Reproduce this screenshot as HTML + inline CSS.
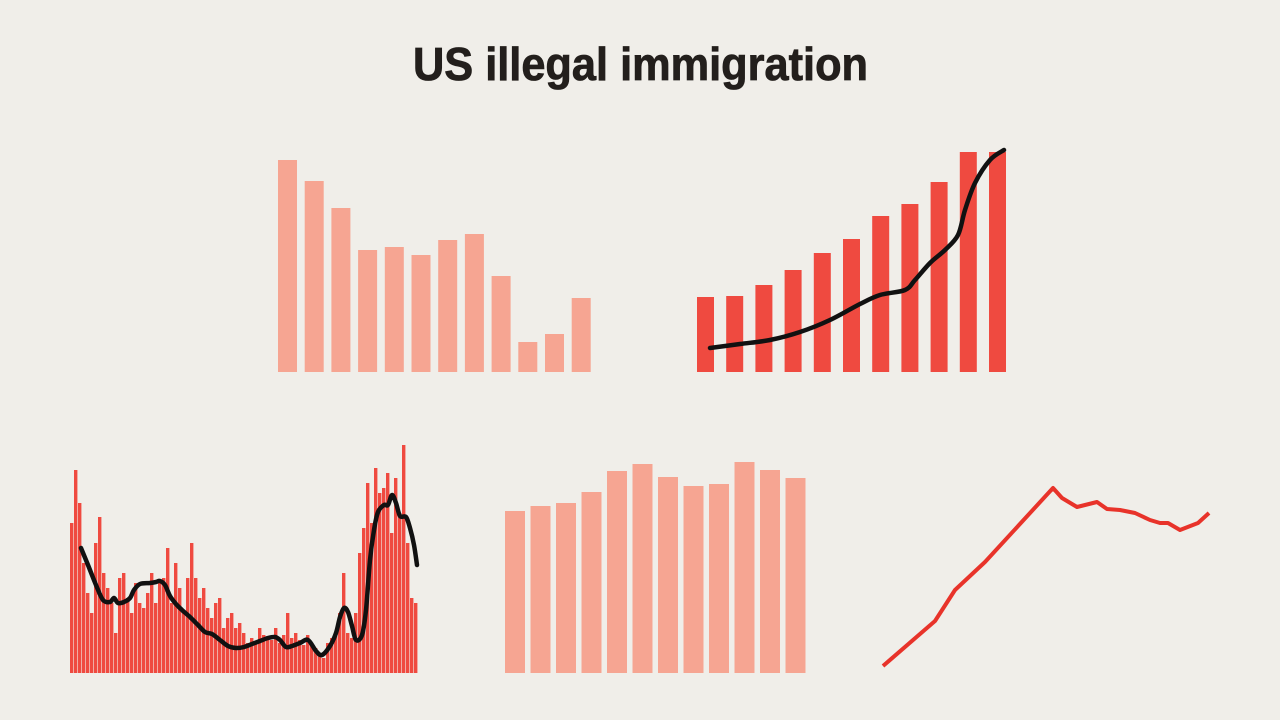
<!DOCTYPE html>
<html><head><meta charset="utf-8"><style>
html,body{margin:0;padding:0;background:#f0eee9;}
svg{display:block;}
</style></head><body>
<svg id="c" width="1280" height="720" viewBox="0 0 1280 720" xmlns="http://www.w3.org/2000/svg">
<rect width="1280" height="720" fill="#f0eee9"/>
<text x="413" y="80" textLength="455" lengthAdjust="spacingAndGlyphs" font-family="Liberation Sans, sans-serif" font-weight="bold" font-size="46" fill="#231f1c" stroke="#231f1c" stroke-width="0.8">US illegal immigration</text>
<g id="g1"></g>
<g id="g2"></g>
<g id="g3"></g>
<g id="g4"></g>
<g id="g5"></g>
</svg>
<script>
const NS="http://www.w3.org/2000/svg";
// Chart 1: top-left bars
const c1Values=[212,191,164,122,125,117,132,138,96,30,38,74];
// Chart 2: top-right bars + trend line
const c2Values=[75,76,87,102,119,133,156,168,190,220,220];
const c2LineX=[710,740,770,800,830,860,880,905,915,930,945,958,965,975,990,1004];
const c2Line=[24,28,32,40,52,68,77,82,92,109,122,137,162,189,212,222];
// Chart 3: bottom-left daily bars + smoothed line
const c3Values=[150,203,170,110,80,60,130,156,100,85,70,40,95,100,75,60,90,70,65,80,100,70,90,95,125,70,110,85,60,95,130,95,75,85,65,55,70,75,45,55,60,45,50,40,30,35,30,45,38,35,33,45,30,38,60,35,40,33,28,38,30,25,20,15,30,35,40,60,100,40,35,60,120,145,190,150,205,180,185,200,140,195,160,228,130,75,70];
const c3LineX=[81,88,96,103,110,114,118,124,130,134,140,150,156,160,165,170,176,182,190,198,205,212,220,228,236,244,252,260,268,275,280,286,292,300,308,316,322,330,336,340,344,348,352,356,362,366,370,374,378,384,388,392,396,400,406,410,414,417];
const c3LineY=[125,108,88,73,71,75,70,71,75,83,89,90,91,92,88,77,69,63,56,48,41,39,33,27,25,26,29,32,35,36,33,26,27,30,33,22,18,27,40,56,65,61,47,33,38,63,113,143,161,168,168,178,170,157,156,145,128,108];
// Chart 4: bottom-middle bars
const c4Values=[162,167,170,181,202,209,196,187,189,211,203,195];
// Chart 5: bottom-right line
const c5X=[883,935,955,985,1053,1062,1077,1097,1107,1120,1135,1150,1160,1168,1180,1198,1209];
const c5Y=[7,52,83,111,185,175,166,171,164,163,160,153,150,150,143,150,160];

function el(tag,attrs,parent){const e=document.createElementNS(NS,tag);for(const k in attrs)e.setAttribute(k,attrs[k]);parent.appendChild(e);return e;}
function smoothPath(pts){let d="M"+pts[0][0]+","+pts[0][1];for(let i=1;i<pts.length;i++){const p0=pts[i-2]||pts[i-1],p1=pts[i-1],p2=pts[i],p3=pts[i+1]||p2;const c1x=p1[0]+(p2[0]-p0[0])/6,c1y=p1[1]+(p2[1]-p0[1])/6,c2x=p2[0]-(p3[0]-p1[0])/6,c2y=p2[1]-(p3[1]-p1[1])/6;d+=" C"+c1x+","+c1y+" "+c2x+","+c2y+" "+p2[0]+","+p2[1];}return d;}

(function(){const g=document.getElementById('g1');const x0=278,step=26.7,w=19,base=372;const y=v=>base-v;
c1Values.forEach((v,i)=>{const r=el('rect',{x:x0+i*step,y:y(v),width:w,height:v,fill:'#f6a592'},g);

});})();
(function(){const g=document.getElementById('g2');const x0=697,step=29.2,w=17,base=372;const y=v=>base-v;
c2Values.forEach((v,i)=>{const r=el('rect',{x:x0+i*step,y:y(v),width:w,height:v,fill:'#ef4a40'},g);

});
const pts=c2Line.map((v,i)=>[c2LineX[i],y(v)]);
const p=el('path',{d:smoothPath(pts),fill:'none',stroke:'#111',"stroke-width":4.5,"stroke-linecap":"round","stroke-linejoin":"round"},g);

})();
(function(){const g=document.getElementById('g3');const x0=70,base=673;const step=348/c3Values.length;const y=v=>base-v;
c3Values.forEach((v,i)=>{const r=el('rect',{x:x0+i*step,y:y(v),width:step*0.85,height:v,fill:'#ef4a40'},g);

});
const pts=c3LineX.map((x,i)=>[x,y(c3LineY[i])]);
const p=el('path',{d:smoothPath(pts),fill:'none',stroke:'#111',"stroke-width":4.5,"stroke-linecap":"round","stroke-linejoin":"round"},g);

})();
(function(){const g=document.getElementById('g4');const x0=505,step=25.5,w=20,base=673;const y=v=>base-v;
c4Values.forEach((v,i)=>{const r=el('rect',{x:x0+i*step,y:y(v),width:w,height:v,fill:'#f6a592'},g);

});})();
(function(){const g=document.getElementById('g5');const base=673;const y=v=>base-v;
const d=c5X.map((x,i)=>(i?'L':'M')+x+','+y(c5Y[i])).join(' ');
const p=el('path',{d:d,fill:'none',stroke:'#e8332a',"stroke-width":4,"stroke-linejoin":"round"},g);

})();
</script>
</body></html>
